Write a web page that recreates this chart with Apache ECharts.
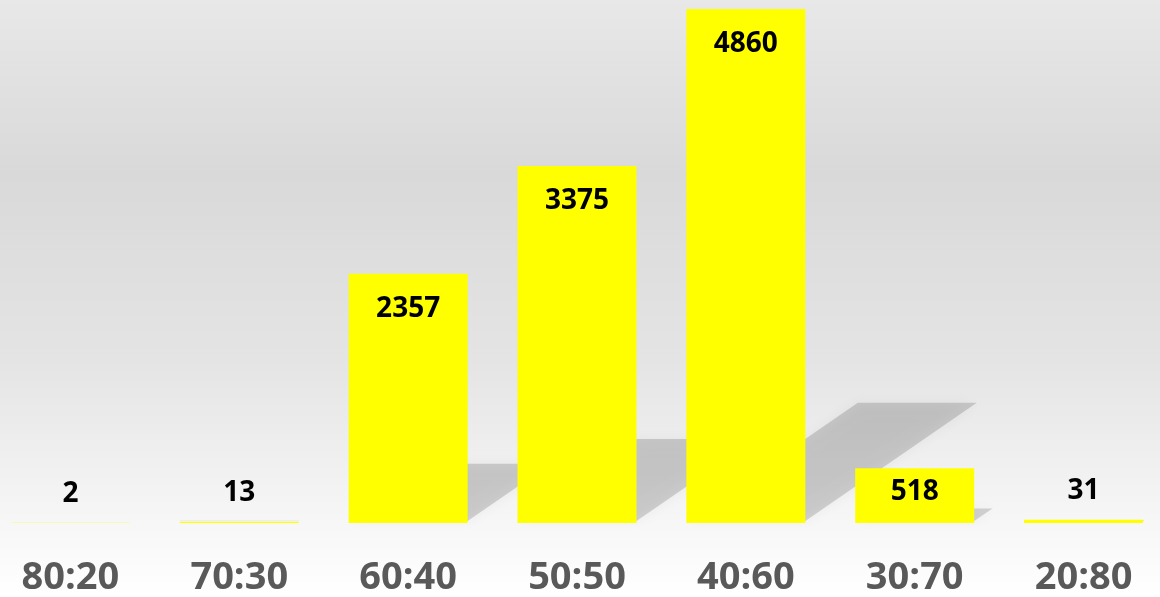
<!DOCTYPE html>
<html>
<head>
<meta charset="utf-8">
<style>
    html, body { margin: 0; padding: 0; }
    #chart { width: 1160px; height: 597px; }
</style>
<script src="https://cdn.jsdelivr.net/npm/echarts@6/dist/echarts.min.js"></script>
</head>
<body>
<div id="chart"></div>
<script>
// 比例分类与数量
var categories = ['80:20', '70:30', '60:40', '50:50', '40:60', '30:70', '20:80'];
var counts = [2, 13, 2357, 3375, 4860, 518, 31];

var BAR_WIDTH = 119;
var FONT = '"Open Sans", "DejaVu Sans", sans-serif';

/**
 * 数值标签位置：小柱子放在上方，大柱子放在内部顶端
 */
function labelFor(value) {
    if (value < 100) {
        return {position: 'top', distance: 15};
    }
    if (value < 1000) {
        return {position: 'insideTop', distance: 10};
    }
    return {position: 'insideTop', distance: 21};
}

/**
 * 柱子后面的倾斜阴影
 */
function renderShadow(params, api) {
    var base = api.coord([api.value(0), 0]);
    var top = api.coord([api.value(0), api.value(1)]);
    var h = (base[1] - top[1]) * 0.23;
    var shift = h * 1.45;
    var x0 = base[0] - BAR_WIDTH / 2;
    var x1 = base[0] + BAR_WIDTH / 2;
    var y0 = base[1] - 2;
    return {
        type: 'polygon',
        shape: {
            points: [[x0, y0], [x1, y0], [x1 + shift, y0 - h], [x0 + shift, y0 - h]]
        },
        style: {
            fill: 'rgba(0,0,0,0.15)',
            shadowBlur: 14,
            shadowColor: 'rgba(0,0,0,0.3)'
        }
    };
}

var myChart = echarts.init(document.getElementById('chart'));
var option = {
    backgroundColor: {
        type: 'linear',
        x: 0, y: 0, x2: 0, y2: 1,
        colorStops: [
            {offset: 0, color: '#e8e8e8'},
            {offset: 0.29, color: '#d9d9d9'},
            {offset: 0.6, color: '#e4e4e4'},
            {offset: 0.88, color: '#f7f7f7'},
            {offset: 1, color: '#ffffff'}
        ]
    },
    animation: false,
    grid: {
        left: -14,
        right: -8,
        top: 9,
        bottom: 74,
        outerBoundsMode: 'none'
    },
    xAxis: {
        type: 'category',
        data: categories,
        axisLine: {show: false},
        axisTick: {show: false},
        axisLabel: {
            margin: 36,
            color: '#595959',
            fontFamily: FONT,
            fontWeight: 'bold',
            fontSize: 38,
            lineHeight: 38
        }
    },
    yAxis: {
        type: 'value',
        min: 0,
        max: 4860,
        show: false,
        splitLine: {show: false}
    },
    series: [
        {
            type: 'custom',
            z: 1,
            silent: true,
            renderItem: renderShadow,
            encode: {x: 0, y: 1},
            data: counts.map(function (v, i) { return [i, v]; })
        },
        {
            type: 'bar',
            z: 2,
            barWidth: BAR_WIDTH,
            itemStyle: {color: '#ffff00'},
            label: {
                show: true,
                color: '#000000',
                fontFamily: FONT,
                fontWeight: 'bold',
                fontSize: 28
            },
            data: counts.map(function (v) {
                return {value: v, label: labelFor(v)};
            })
        }
    ]
};
myChart.setOption(option, true);
</script>
</body>
</html>
